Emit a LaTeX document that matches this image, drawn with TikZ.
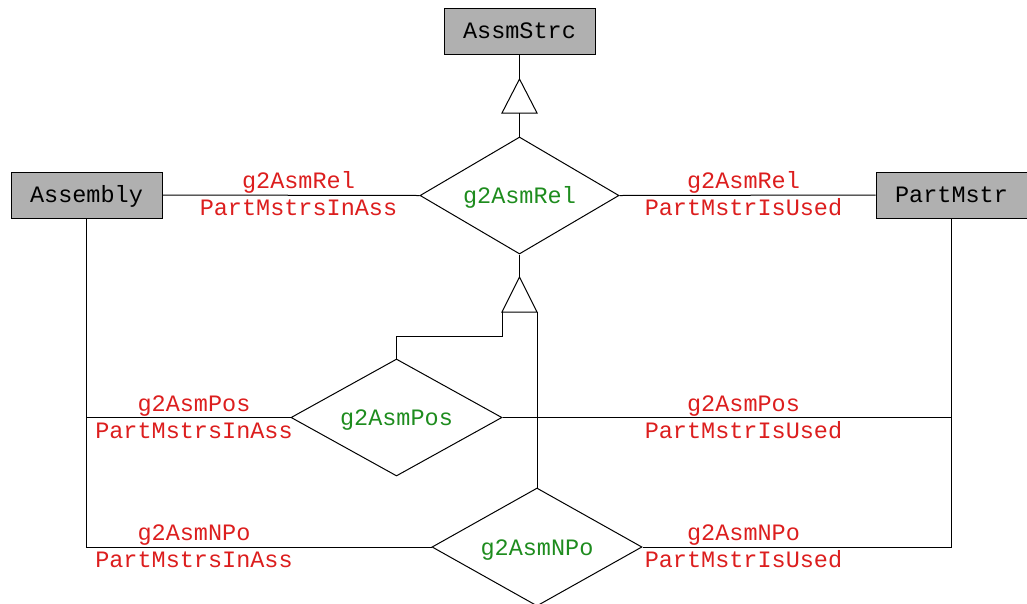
\documentclass[tikz,border=0pt]{standalone}
\usepackage{fontspec}
\setmonofont{Liberation Mono}
\usetikzlibrary{shapes.geometric}
\definecolor{lblred}{RGB}{220,30,30}
\definecolor{relgreen}{RGB}{30,140,30}
\definecolor{boxgray}{RGB}{176,176,176}
\tikzset{
  every node/.style={font=\ttfamily\fontsize{23.5}{28}\selectfont},
  entity/.style={draw, line width=1pt, fill=boxgray, minimum width=151pt, minimum height=46pt, inner sep=0pt, text height=17pt, text depth=3pt},
  rel/.style={draw, line width=1pt, diamond, aspect=1.7, minimum width=199pt, minimum height=117pt, inner sep=0pt, text=relgreen, text height=18pt, text depth=2pt},
  role/.style={text=lblred, inner sep=0pt, anchor=base},
  conn/.style={line width=1pt},
}
\begin{document}
\begin{tikzpicture}[x=1pt,y=-1pt]
\useasboundingbox (0,0) rectangle (1027,603);
% entities
\node[entity] (strc) at (519.5,31) {AssmStrc};
\node[entity] (asm) at (86.5,195) {Assembly};
\node[entity] (pm) at (951.5,195) {PartMstr};
% relationships
\node[rel] (rel) at (519.5,195.5) {g2AsmRel};
\node[rel, minimum width=211pt] (pos) at (396.5,417.5) {g2AsmPos};
\node[rel, minimum width=210pt, minimum height=118pt] (npo) at (537,547) {g2AsmNPo};
% triangle 1
\coordinate (t1a) at (519.5,79);
\coordinate (t1l) at (502,113);
\coordinate (t1r) at (537,113);
\coordinate (t1b) at (519.5,113);
% triangle 2
\coordinate (t2a) at (519.5,277);
\coordinate (t2l) at (502,312);
\coordinate (t2r) at (537,312);
\coordinate (bend) at (396.5,336);
% generalisation
\draw[conn] (strc.south) -- (t1a);
\draw[conn] (t1a) -- (t1l) -- (t1r) -- cycle;
\draw[conn] (t1b) -- (rel.north);
\draw[conn] (rel.south) -- (t2a);
\draw[conn] (t2a) -- (t2l) -- (t2r) -- cycle;
\draw[conn] (t2l) |- (bend) -- (pos.north);
\draw[conn] (t2r) -- (npo.north);
% associations
\draw[conn] (asm.east) -- (rel.west);
\draw[conn] (rel.east) -- (pm.west);
\draw[conn] (asm.south) |- (pos.west);
\draw[conn] (asm.south) |- (npo.west);
\draw[conn] (pm.south) |- (pos.east);
\draw[conn] (pm.south) |- (npo.east);
% role labels
\node[role] (l1a) at (298.5,188) {g2AsmRel};
\node[role] (l1b) at (298.5,215) {PartMstrsInAss};
\node[role] (r1a) at (743.5,188) {g2AsmRel};
\node[role] (r1b) at (743.5,215) {PartMstrIsUsed};
\node[role] (l2a) at (194,411) {g2AsmPos};
\node[role] (l2b) at (194,438) {PartMstrsInAss};
\node[role] (r2a) at (743.5,411) {g2AsmPos};
\node[role] (r2b) at (743.5,438) {PartMstrIsUsed};
\node[role] (l3a) at (194,540) {g2AsmNPo};
\node[role] (l3b) at (194,567) {PartMstrsInAss};
\node[role] (r3a) at (743.5,540) {g2AsmNPo};
\node[role] (r3b) at (743.5,567) {PartMstrIsUsed};
\end{tikzpicture}
\end{document}
